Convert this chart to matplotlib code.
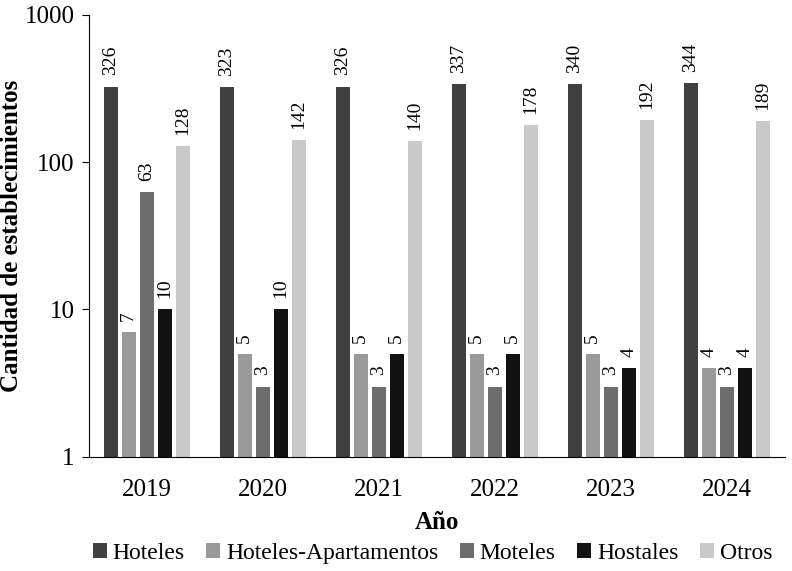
import matplotlib
matplotlib.use('Agg')
import numpy as np
import matplotlib.pyplot as plt

years = ['2019', '2020', '2021', '2022', '2023', '2024']
categories = ['Hoteles', 'Hoteles-Apartamentos', 'Moteles', 'Hostales', 'Otros']
hoteles = [326, 323, 326, 337, 340, 344]
hoteles_apto = [7, 5, 5, 5, 5, 4]
moteles = [63, 3, 3, 3, 3, 3]
hostales = [10, 10, 5, 5, 4, 4]
otros = [128, 142, 140, 178, 192, 189]
colors = ['#404040', '#9a9a9a', '#6d6d6d', '#111111', '#c9c9c9']

plt.rcParams['font.family'] = ['Liberation Serif', 'DejaVu Serif']

fig = plt.figure(figsize=(7.92, 5.71), dpi=100)
ax = fig.add_axes([0.112, 0.2, 0.879, 0.774])

x = np.arange(len(years))
pitch = 0.155
width = 0.12
series = [hoteles, hoteles_apto, moteles, hostales, otros]
for i, (name, vals) in enumerate(zip(categories, series)):
    pos = x + (i - 2) * pitch
    bars = ax.bar(pos, vals, width, color=colors[i], label=name)
    for b, v in zip(bars, vals):
        ax.annotate(str(v), (b.get_x() + b.get_width() / 2, v),
                    xytext=(0, 8), textcoords='offset points',
                    rotation=90, ha='center', va='bottom', fontsize=14)

ax.set_yscale('log')
ax.set_ylim(1, 1000)
ax.set_yticks([1, 10, 100, 1000])
ax.set_yticklabels(['1', '10', '100', '1000'])
ax.minorticks_off()
ax.set_xlim(-0.5, 5.5)
ax.set_xticks(x)
ax.set_xticklabels(years)
ax.tick_params(axis='x', length=0, labelsize=18, pad=16)
ax.tick_params(axis='y', length=5, labelsize=18, pad=5)
ax.spines['top'].set_visible(False)
ax.spines['right'].set_visible(False)
ax.set_ylabel('Cantidad de establecimientos', fontsize=18, fontweight='bold', labelpad=1)
ax.set_xlabel('Año', fontsize=18, fontweight='bold', labelpad=7)

fig.legend(loc='center', bbox_to_anchor=(0.546, 0.031), ncol=5, frameon=False,
           prop={'family': 'Liberation Serif', 'size': 17},
           handlelength=0.6, handleheight=0.6, handletextpad=0.25,
           columnspacing=0.9, borderaxespad=0)

fig.savefig('out.png', dpi=100)
